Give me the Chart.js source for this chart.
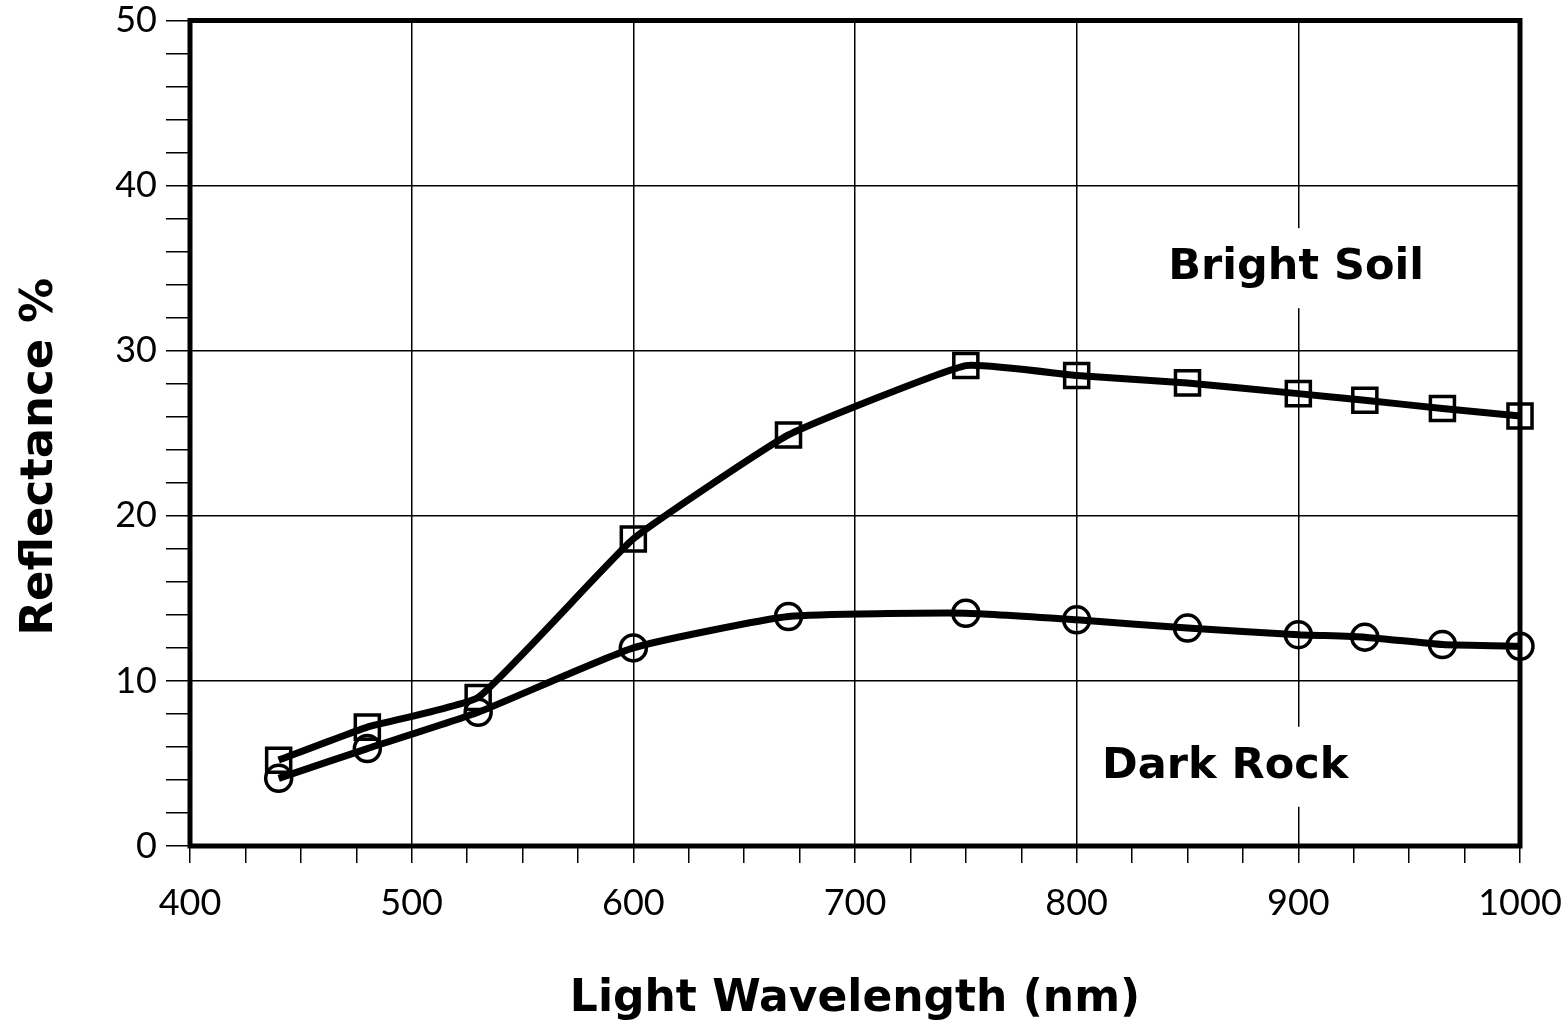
<!DOCTYPE html>
<html>
<head>
<meta charset="utf-8">
<script src="https://cdn.jsdelivr.net/npm/chart.js@4.4.0/dist/chart.umd.min.js"></script>
<style>
  body { margin: 0; background: #fff; }
  #wrap { width: 1568px; height: 1030px; }
</style>
</head>
<body>
<div id="wrap"><canvas id="myChart"></canvas></div>
<script>
// values
const wavelengths = [440, 480, 530, 600, 670, 750, 800, 850, 900, 930, 965, 1000];
const brightSoil = [5.2, 7.2, 9.0, 18.6, 24.9, 29.1, 28.5, 28.05, 27.4, 27.0, 26.5, 26.05];
const darkRock = [4.1, 5.9, 8.1, 12.0, 13.9, 14.1, 13.7, 13.2, 12.8, 12.65, 12.2, 12.1];

const labelTexts = ['Bright Soil', 'Dark Rock'];
const labelX = [899, 867];
const labelY = [35.0, 4.8];

const xTitle = 'Light Wavelength (nm)';
const yTitle = 'Reflectance %   ';

const boldFont = 'DejaVu Sans';
const tickFont = 'Lato';

function toPoints(ys) {
    return wavelengths.map((x, i) => ({ x: x, y: ys[i] }));
}

// thick frame round the plot area
const framePlugin = {
    id: 'frame',
    beforeDatasetsDraw(chart) {
        const a = chart.chartArea;
        const ctx = chart.ctx;
        ctx.save();
        ctx.strokeStyle = '#000';
        ctx.lineWidth = 5;
        ctx.strokeRect(a.left, a.top, a.right - a.left, a.bottom - a.top);
        ctx.restore();
    }
};

// in-plot labels with white backing (they break the grid lines)
const labelPlugin = {
    id: 'curveLabels',
    afterDatasetsDraw(chart) {
        const ctx = chart.ctx;
        const xs = chart.scales.x, ys = chart.scales.y;
        ctx.save();
        ctx.font = 'bold 43px "' + boldFont + '"';
        ctx.textAlign = 'center';
        ctx.textBaseline = 'middle';
        labelTexts.forEach((t, i) => {
            const px = xs.getPixelForValue(labelX[i]);
            const py = ys.getPixelForValue(labelY[i]);
            const w = ctx.measureText(t).width + 16;
            ctx.fillStyle = '#fff';
            ctx.fillRect(px - w / 2, py - 40, w, 80);
            ctx.fillStyle = '#000';
            ctx.fillText(t, px, py);
        });
        ctx.restore();
    }
};

const ctx = document.getElementById('myChart').getContext('2d');
new Chart(ctx, {
    type: 'line',
    data: {
        datasets: [{
            label: 'Bright Soil',
            data: toPoints(brightSoil),
            borderColor: '#000',
            borderWidth: 7,
            tension: 0.12,
            pointStyle: 'rect',
            pointRadius: 17,
            pointBorderWidth: 3.5,
            pointBorderColor: '#000',
            pointBackgroundColor: 'rgba(0,0,0,0)',
            clip: false
        }, {
            label: 'Dark Rock',
            data: toPoints(darkRock),
            borderColor: '#000',
            borderWidth: 7,
            tension: 0.15,
            pointStyle: 'circle',
            pointRadius: 13,
            pointBorderWidth: 3.5,
            pointBorderColor: '#000',
            pointBackgroundColor: 'rgba(0,0,0,0)',
            clip: false
        }]
    },
    options: {
        animation: false,
        responsive: true,
        maintainAspectRatio: false,
        events: [],
        layout: {
            padding: { top: 20, right: 48, left: 0, bottom: 0 }
        },
        plugins: {
            legend: { display: false },
            tooltip: { enabled: false }
        },
        scales: {
            x: {
                type: 'linear',
                min: 400,
                max: 1000,
                afterFit: function(scale) {
                    scale.height = 184;
                    scale.paddingLeft = 0;
                    scale.paddingRight = 0;
                },
                border: { display: false },
                grid: {
                    color: c => (c.tick && c.tick.value % 100 === 0) ? '#000' : 'rgba(0,0,0,0)',
                    tickColor: '#000',
                    lineWidth: 1.5,
                    tickLength: 17
                },
                ticks: {
                    stepSize: 25,
                    autoSkip: false,
                    maxRotation: 0,
                    padding: 19,
                    color: '#000',
                    font: { family: tickFont, size: 36 },
                    callback: function(value) {
                        return value % 100 === 0 ? value : '';
                    }
                },
                title: {
                    display: true,
                    text: xTitle,
                    color: '#000',
                    font: { family: boldFont, size: 44, weight: 'bold' },
                    padding: { top: 0, bottom: 4 }
                }
            },
            y: {
                min: 0,
                max: 50,
                afterFit: function(scale) {
                    scale.width = 190;
                    scale.paddingTop = 0;
                    scale.paddingBottom = 0;
                },
                border: { display: false },
                grid: {
                    color: c => (c.tick && c.tick.value % 10 === 0) ? '#000' : 'rgba(0,0,0,0)',
                    tickColor: '#000',
                    lineWidth: 1.5,
                    tickLength: 24
                },
                ticks: {
                    stepSize: 2,
                    autoSkip: false,
                    padding: 9,
                    color: '#000',
                    font: { family: tickFont, size: 36 },
                    callback: function(value) {
                        return value % 10 === 0 ? value : '';
                    }
                },
                title: {
                    display: true,
                    text: yTitle,
                    color: '#000',
                    font: { family: boldFont, size: 45, weight: 'bold' },
                    padding: { top: 13, bottom: 0 }
                }
            }
        }
    },
    plugins: [framePlugin, labelPlugin]
});
</script>
</body>
</html>
